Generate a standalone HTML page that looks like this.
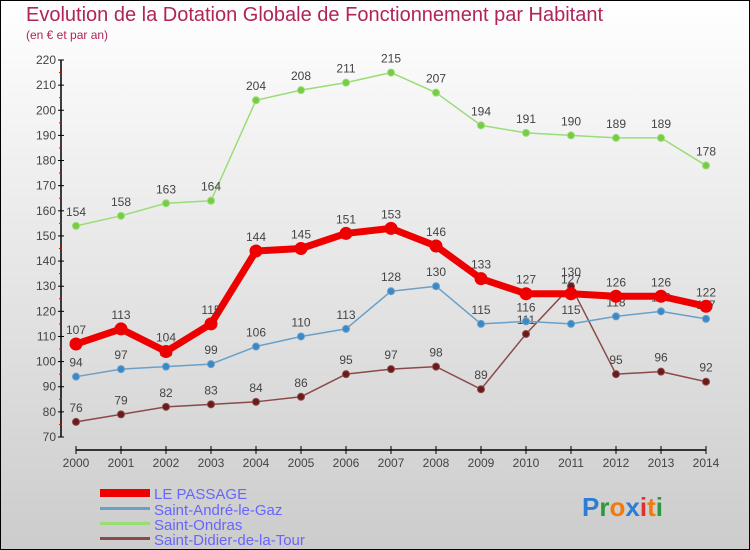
<!DOCTYPE html>
<html><head><meta charset="utf-8"><style>
body{margin:0;width:750px;height:550px;overflow:hidden;font-family:"Liberation Sans",sans-serif}
svg{display:block}
</style></head><body>
<svg id="c" width="750" height="550" xmlns="http://www.w3.org/2000/svg">
<defs><linearGradient id="bg" x1="0" y1="0" x2="0" y2="1"><stop offset="0" stop-color="#ffffff"/><stop offset="1" stop-color="#cccccc"/></linearGradient></defs>
<rect x="0.5" y="0.5" width="749" height="549" fill="url(#bg)" stroke="#000"/>
<text x="26" y="21" font-size="20" fill="#b0245a">Evolution de la Dotation Globale de Fonctionnement par Habitant</text>
<text x="26" y="39" font-size="12" fill="#b0245a">(en € et par an)</text>
<g id="axes"></g><g id="series"></g>
<g>
<rect x="100" y="489" width="50" height="8" fill="#e00"/>
<text x="154" y="499" font-size="15" fill="#6666ff">LE PASSAGE</text>
<rect x="100" y="507" width="50" height="3" fill="#6aa0c8"/>
<text x="154" y="515" font-size="15" fill="#6666ff">Saint-André-le-Gaz</text>
<rect x="100" y="522" width="50" height="3" fill="#99dd77"/>
<text x="154" y="530" font-size="15" fill="#6666ff">Saint-Ondras</text>
<rect x="100" y="537" width="50" height="3" fill="#8b4a4a"/>
<text x="154" y="545" font-size="15" fill="#6666ff">Saint-Didier-de-la-Tour</text>
</g>
<text x="582" y="516" font-size="26" font-weight="bold"><tspan fill="#2a7fd4">P</tspan><tspan fill="#2a9a3a">r</tspan><tspan fill="#f07a10">o</tspan><tspan fill="#2a7fd4">x</tspan><tspan fill="#e03030">i</tspan><tspan fill="#f07a10">t</tspan><tspan fill="#2a9a3a">i</tspan></text>
</svg>
<script>
const years=[2000,2001,2002,2003,2004,2005,2006,2007,2008,2009,2010,2011,2012,2013,2014];
const lePassage=[107,113,104,115,144,145,151,153,146,133,127,127,126,126,122];
const saintAndre=[94,97,98,99,106,110,113,128,130,115,116,115,118,120,117];
const saintOndras=[154,158,163,164,204,208,211,215,207,194,191,190,189,189,178];
const saintDidier=[76,79,82,83,84,86,95,97,98,89,111,130,95,96,92];
const yTicks=[70,80,90,100,110,120,130,140,150,160,170,180,190,200,210,220];
const NS="http://www.w3.org/2000/svg";
const X=i=>76+i*45;
const Y=v=>437-(v-70)*(377/150);
function mk(t,a,p){const e=document.createElementNS(NS,t);for(const k in a)e.setAttribute(k,a[k]);p.appendChild(e);return e;}
const ax=document.getElementById('axes');
let l=mk('line',{x1:61,y1:Y(220),x2:61,y2:437,stroke:'#000','stroke-width':1.5},ax);


l=mk('line',{x1:76,y1:450,x2:706,y2:450,stroke:'#000','stroke-width':1.5},ax);


yTicks.forEach(v=>{
 mk('line',{x1:58,y1:Y(v),x2:64,y2:Y(v),stroke:'#000'},ax);
 if(v<220)mk('line',{x1:59,y1:Y(v+5),x2:62,y2:Y(v+5),stroke:'#e00'},ax);
 const t=mk('text',{x:56,y:Y(v)+4,'font-size':12,'text-anchor':'end',fill:'#444'},ax);t.textContent=v;
 
 
});
years.forEach((y,i)=>{
 mk('line',{x1:X(i),y1:446,x2:X(i),y2:454,stroke:'#000'},ax);
 const t=mk('text',{x:X(i),y:467,'font-size':12,'text-anchor':'middle',fill:'#444'},ax);t.textContent=y;
 
 
});
const sg=document.getElementById('series');
function draw(data,color,dot,w,r,name){
 const g=mk('g',{},sg);
 
 
 mk('polyline',{points:data.map((v,i)=>X(i)+','+Y(v)).join(' '),fill:'none',stroke:color,'stroke-width':w,'stroke-linejoin':'round'},g);
 data.forEach((v,i)=>{
  const c=mk('circle',{cx:X(i),cy:Y(v),r:r,fill:dot,stroke:color,'stroke-width':1},g);
  
  
  const t=mk('text',{x:X(i),y:Y(v)-10,'font-size':12,'text-anchor':'middle',fill:'#444'},g);t.textContent=v;
  
  
 });
}
draw(saintDidier,'#8b4a4a','#6b1a1a',1.5,3.5,'series-saint-didier');
draw(saintAndre,'#6aa0c8','#3a88c8',1.5,3.5,'series-saint-andre');
draw(saintOndras,'#99dd77','#77cc44',1.5,3.5,'series-saint-ondras');
draw(lePassage,'#e00','#e00',7,6,'series-le-passage');
</script>
</body></html>
